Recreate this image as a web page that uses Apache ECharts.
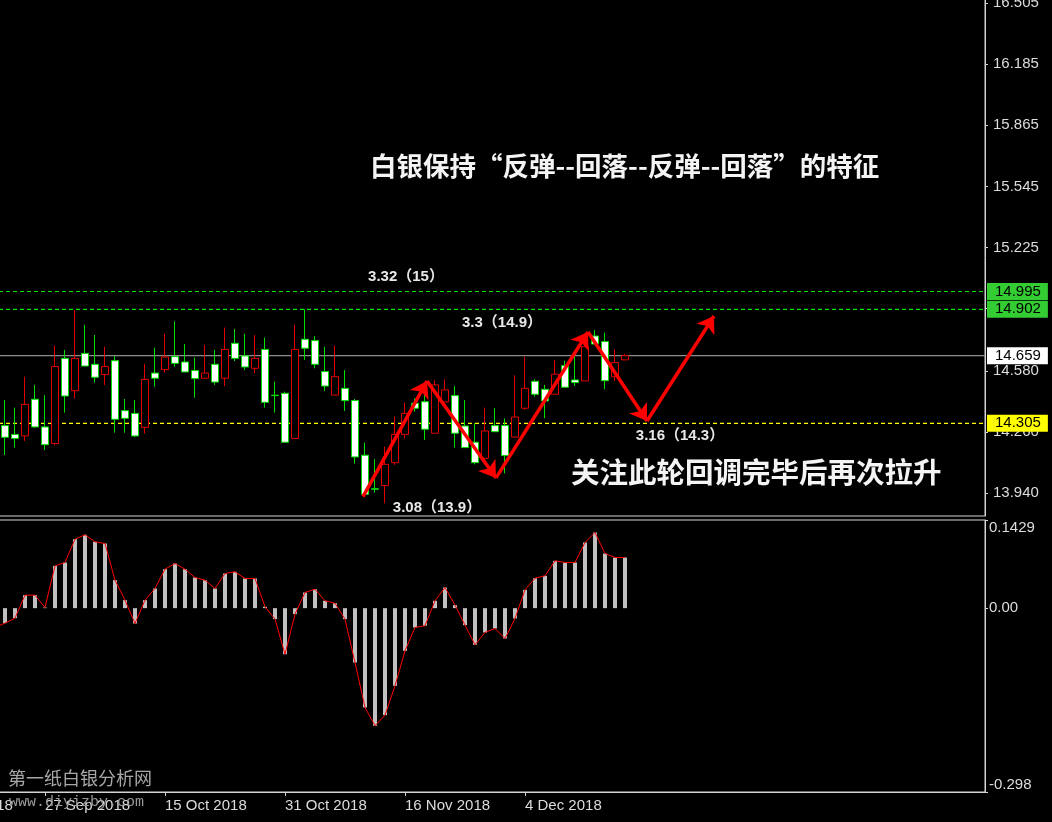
<!DOCTYPE html>
<html>
<head>
<meta charset="utf-8">
<script src="https://cdn.jsdelivr.net/npm/echarts@6/dist/echarts.min.js"></script>
<style>
  html, body { margin: 0; padding: 0; background: #000; }
  #chart { width: 1052px; height: 822px; }
</style>
</head>
<body>
<div id="chart"></div>
<script>
// Daily silver bars (index 0 = first visible bar)
const opens  = [14.293,14.247,14.239,14.431,14.286,14.199,14.645,14.476,14.671,14.614,
                14.560,14.633,14.371,14.357,14.284,14.568,14.586,14.654,14.626,14.581,
                14.541,14.614,14.541,14.724,14.658,14.593,14.692,14.452,14.462,14.226,
                14.745,14.738,14.576,14.453,14.488,14.424,14.138,13.962,13.979,14.099,
                14.247,14.410,14.418,14.253,14.417,14.450,14.291,14.206,14.122,14.293,
                14.293,14.233,14.384,14.525,14.483,14.457,14.607,14.532,14.527,14.762,
                14.733,14.549,14.637];
const closes = [14.232,14.226,14.404,14.286,14.193,14.602,14.448,14.645,14.605,14.546,
                14.602,14.326,14.331,14.239,14.535,14.541,14.652,14.619,14.574,14.539,
                14.568,14.521,14.692,14.645,14.600,14.645,14.415,14.450,14.206,14.692,
                14.698,14.614,14.500,14.549,14.424,14.129,13.933,13.960,14.090,14.247,
                14.357,14.384,14.274,14.506,14.480,14.253,14.178,14.099,14.265,14.261,
                14.136,14.338,14.488,14.457,14.422,14.562,14.494,14.518,14.706,14.720,
                14.528,14.623,14.659];
const lows   = [14.139,14.178,14.212,14.282,14.165,14.190,14.361,14.434,14.605,14.518,
                14.506,14.256,14.256,14.232,14.251,14.497,14.570,14.602,14.574,14.439,
                14.541,14.506,14.500,14.631,14.584,14.567,14.387,14.361,14.206,14.226,
                14.637,14.593,14.474,14.453,14.370,14.094,13.921,13.942,13.886,14.087,
                14.226,14.366,14.218,14.253,14.417,14.178,14.178,14.090,14.122,14.261,
                14.043,14.233,14.375,14.445,14.331,14.457,14.494,14.500,14.527,14.720,
                14.483,14.527,14.637];
const highs  = [14.427,14.387,14.549,14.506,14.452,14.713,14.689,14.898,14.820,14.767,
                14.706,14.658,14.432,14.427,14.616,14.701,14.774,14.839,14.720,14.649,
                14.715,14.689,14.806,14.799,14.773,14.767,14.754,14.523,14.471,14.820,
                14.902,14.762,14.706,14.713,14.584,14.432,14.204,14.117,14.183,14.340,
                14.413,14.436,14.488,14.532,14.535,14.500,14.427,14.305,14.387,14.384,
                14.331,14.556,14.654,14.535,14.506,14.637,14.633,14.671,14.776,14.794,
                14.780,14.692,14.668];

// Oscillator histogram; the first value belongs to the bar just left of the window
const oscStart = -1;
const oscValues = [-0.0310,
  -0.0243,-0.0162,0.0211,0.0211,0.0011,0.0686,0.0740,0.1118,0.1189,0.1075,
  0.1048,0.0454,0.0130,-0.0249,0.0130,0.0319,0.0632,0.0724,0.0632,0.0497,
  0.0454,0.0319,0.0562,0.0589,0.0481,0.0481,0.0022,-0.0178,-0.0746,-0.0097,
  0.0254,0.0308,0.0119,0.0081,-0.0178,-0.0881,-0.1610,-0.1907,-0.1734,-0.1259,
  -0.0692,-0.0313,-0.0286,0.0119,0.0335,0.0049,-0.0276,-0.0594,-0.0394,-0.0330,
  -0.0492,-0.0167,0.0297,0.0486,0.0524,0.0767,0.0740,0.0740,0.1064,0.1226,
  0.0886,0.0821,0.0821];

// Time axis labels (bar position where each date label starts)
const dateTickIdx = [-7.6, 4, 16, 28, 40, 52];
const dateTickText = ['11 Sep 2018', '27 Sep 2018', '15 Oct 2018', '31 Oct 2018', '16 Nov 2018', '4 Dec 2018'];

// Price scale labels
const priceTicks = [16.505, 16.185, 15.865, 15.545, 15.225, 14.905, 14.58, 14.26, 13.94];
const oscTicks = [-0.298, 0, 0.1429];

// Horizontal price levels
const levelHigh = 14.995;
const levelTop = 14.902;
const levelBid = 14.659;
const levelSupport = 14.305;

// Swing path drawn with arrows (bar index, price)
const swingIdx = [35.8, 42.2, 49.1, 58.3, 64.2, 70.9];
const swingPrice = [13.921, 14.526, 14.019, 14.783, 14.317, 14.867];

// Annotation texts
const titleText = '白银保持“反弹--回落--反弹--回落”的特征';
const noteText = '关注此轮回调完毕后再次拉升';
const levelNotes = ['3.32（15）', '3.3（14.9）', '3.16（14.3）', '3.08（13.9）'];

const X_MIN = -0.6, X_MAX = 98;
const FRAME = '#d4d4d4';
const AXIS_TXT = '#dcdcdc';
const AXIS_FONT = 'Liberation Sans';

const candleData = opens.map((o, i) => [i, o, closes[i], lows[i], highs[i]]);
const oscData = oscValues.map((v, k) => [k + oscStart, v]);
const swingSegments = swingIdx.slice(1).map((x, k) => ({
  coords: [[swingIdx[k], swingPrice[k]], [x, swingPrice[k + 1]]]
}));

// A horizontal level across the whole price window, with its price tag past the right edge
function levelSeries(value, lineColor, lineType, boxColor) {
  return {
    type: 'line', xAxisIndex: 0, yAxisIndex: 0, silent: true, z: 2,
    data: [[X_MIN, value], [X_MAX, value]],
    showSymbol: false, symbol: 'none', clip: false,
    lineStyle: { color: lineColor, type: lineType, width: 1.2, opacity: 1 },
    emphasis: { disabled: true },
    endLabel: {
      show: true, distance: 2,
      formatter: () => value.toFixed(3),
      backgroundColor: boxColor, color: '#000',
      fontFamily: AXIS_FONT, fontSize: 15, lineHeight: 17,
      padding: [0, 7, 0, 8]
    }
  };
}

const textFontCN = '"Noto Sans CJK SC"';
const noteFont = 'bold 15px "Liberation Sans", "Noto Sans CJK SC"';

const chart = echarts.init(document.getElementById('chart'), null, { renderer: 'canvas' });

chart.setOption({
  backgroundColor: '#000',
  animation: false,
  grid: [
    { left: -1, top: -1, width: 986, height: 517, outerBoundsMode: 'none', containLabel: false,
      show: true, borderColor: FRAME, borderWidth: 1, backgroundColor: 'transparent' },
    { left: -1, top: 520, width: 986, height: 272, outerBoundsMode: 'none', containLabel: false,
      show: true, borderColor: FRAME, borderWidth: 1, backgroundColor: 'transparent' }
  ],
  xAxis: [
    { type: 'value', gridIndex: 0, min: X_MIN, max: X_MAX, show: false, axisLine: { onZero: false } },
    {
      type: 'value', gridIndex: 1, min: X_MIN, max: X_MAX, position: 'bottom',
      axisLine: { show: true, onZero: false, lineStyle: { color: FRAME } },
      axisTick: { show: true, length: 4, customValues: dateTickIdx, lineStyle: { color: FRAME } },
      axisLabel: {
        customValues: dateTickIdx,
        formatter: v => dateTickText[dateTickIdx.indexOf(v)] || '',
        align: 'left', margin: 6, color: AXIS_TXT, fontFamily: AXIS_FONT, fontSize: 15
      },
      splitLine: { show: false }
    }
  ],
  yAxis: [
    {
      type: 'value', gridIndex: 0, position: 'right', min: 13.8197, max: 16.5265,
      axisLine: { show: true, onZero: false, lineStyle: { color: FRAME } },
      axisTick: { show: true, length: 3, customValues: priceTicks, lineStyle: { color: FRAME } },
      axisLabel: {
        customValues: priceTicks, formatter: v => v.toFixed(3),
        margin: 8, color: AXIS_TXT, fontFamily: AXIS_FONT, fontSize: 15
      },
      splitLine: { show: false }
    },
    {
      type: 'value', gridIndex: 1, position: 'right', min: -0.298, max: 0.1429,
      axisLine: { show: true, onZero: false, lineStyle: { color: FRAME } },
      axisTick: { show: true, length: 3, customValues: oscTicks, lineStyle: { color: FRAME } },
      axisLabel: {
        customValues: oscTicks, formatter: v => (v === 0 ? '0.00' : String(v)),
        margin: 4, color: AXIS_TXT, fontFamily: AXIS_FONT, fontSize: 15,
        verticalAlignMinLabel: 'bottom', verticalAlignMaxLabel: 'top'
      },
      splitLine: { show: false }
    }
  ],
  series: [
    levelSeries(levelHigh, '#00e600', [4, 3], '#33cc33'),
    levelSeries(levelTop, '#00e600', [4, 3], '#33cc33'),
    levelSeries(levelBid, '#8c8c8c', 'solid', '#ffffff'),
    levelSeries(levelSupport, '#ffff00', [4, 3], '#ffff00'),
    {
      type: 'candlestick', xAxisIndex: 0, yAxisIndex: 0,
      data: candleData, encode: { x: 0, y: [1, 2, 3, 4] },
      barWidth: 7,
      itemStyle: {
        color: '#000', borderColor: '#e00000',
        color0: '#fff', borderColor0: '#00e000', borderWidth: 1
      },
      z: 3
    },
    {
      type: 'lines', coordinateSystem: 'cartesian2d', xAxisIndex: 0, yAxisIndex: 0,
      data: swingSegments, symbol: ['none', 'arrow'], symbolSize: 16,
      lineStyle: { color: '#ff0000', width: 3.5, opacity: 1, curveness: 0 },
      silent: true, z: 6
    },
    {
      type: 'bar', xAxisIndex: 1, yAxisIndex: 1, data: oscData,
      barWidth: 4, itemStyle: { color: '#c0c0c0' }, silent: true
    },
    {
      type: 'line', xAxisIndex: 1, yAxisIndex: 1, data: oscData,
      showSymbol: false, lineStyle: { color: '#ff0000', width: 1 }, silent: true, z: 4
    }
  ],
  graphic: [
    { id: 'title', type: 'text', x: 370, y: 166, style: { text: titleText, fill: '#f4f4f4', font: 'bold 26.5px ' + textFontCN, verticalAlign: 'middle' } },
    { id: 'note', type: 'text', x: 571, y: 472, style: { text: noteText, fill: '#f4f4f4', font: 'bold 28.5px ' + textFontCN, verticalAlign: 'middle' } },
    { id: 'lv0', type: 'text', x: 406, y: 277, style: { text: levelNotes[0], fill: '#e8e8e8', font: noteFont, align: 'center', verticalAlign: 'middle' } },
    { id: 'lv1', type: 'text', x: 502, y: 323, style: { text: levelNotes[1], fill: '#e8e8e8', font: noteFont, align: 'center', verticalAlign: 'middle' } },
    { id: 'lv2', type: 'text', x: 680, y: 436, style: { text: levelNotes[2], fill: '#e8e8e8', font: noteFont, align: 'center', verticalAlign: 'middle' } },
    { id: 'lv3', type: 'text', x: 437, y: 508, style: { text: levelNotes[3], fill: '#e8e8e8', font: noteFont, align: 'center', verticalAlign: 'middle' } },
    { id: 'site', type: 'text', x: 8, y: 778, z: 10, style: { text: '第一纸白银分析网', fill: '#a8a8a8', font: '18px ' + textFontCN, verticalAlign: 'middle' } },
    { id: 'url', type: 'text', x: 9, y: 802, z: 10, style: { text: 'www.diyizby.com', fill: '#9a9a9a', font: '15px "Liberation Mono"', verticalAlign: 'middle' } }
  ]
});

// The date label of the bar left of the window is only partly on screen
const leftX = chart.convertToPixel({ xAxisIndex: 1 }, dateTickIdx[0]);
const axisY = chart.convertToPixel({ yAxisIndex: 1 }, -0.298);
chart.setOption({
  graphic: [{
    id: 'firstDate', type: 'text', x: leftX, y: axisY + 6, z: 1,
    style: { text: dateTickText[0], fill: AXIS_TXT, font: '15px "Liberation Sans"', verticalAlign: 'top' }
  }]
});
</script>
</body>
</html>
